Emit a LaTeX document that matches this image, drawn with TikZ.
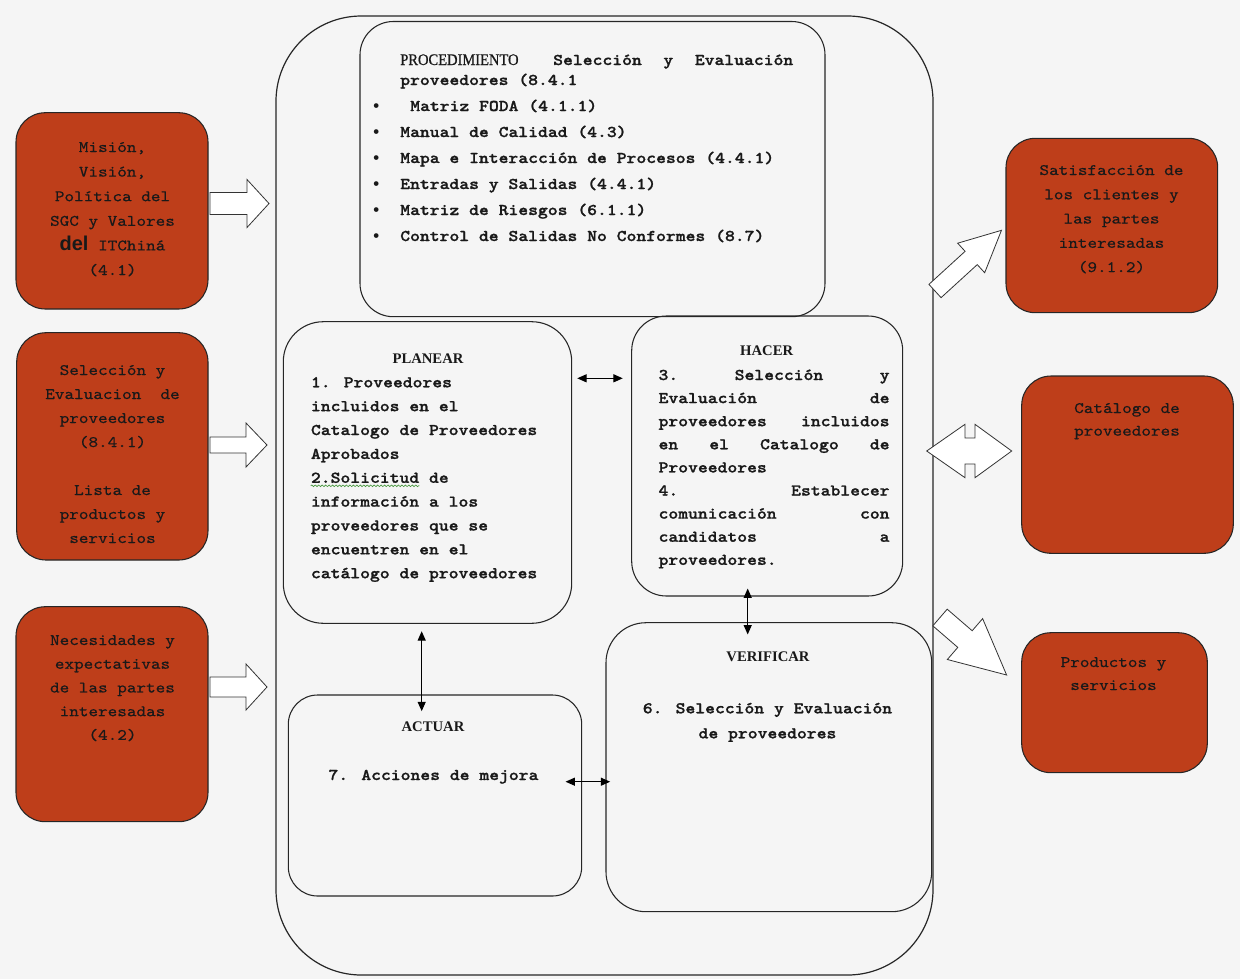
\documentclass[tikz,border=0pt]{standalone}
\usepackage{fontspec}
\newfontfamily\cour[FakeStretch=1.143, FakeBold=0.5, BoldFont=lmmonolt10-bold.otf, BoldFeatures={FakeBold=1.2}]{lmmono10-regular.otf}
\newfontfamily\libmono{Liberation Mono}
\newfontfamily\tms{Liberation Serif}
\newfontfamily\tmsc[FakeStretch=0.9, FakeBold=0.8]{Liberation Serif}
\newfontfamily\arl{Liberation Sans}
\usetikzlibrary{fit,calc,arrows.meta,decorations.pathmorphing}
\definecolor{redbox}{RGB}{190,62,26}
\definecolor{paper}{RGB}{245,245,245}
\definecolor{spell}{RGB}{70,150,60}
\newcommand\redfont[1]{\cour\fontsize{12}{#1}\selectfont}
\newcommand\inb[1]{\cour\bfseries\fontsize{12.3}{#1}\selectfont}
\newcommand\hdr{\tms\bfseries\fontsize{11}{13}\selectfont}
\newcommand\bul{\makebox[21.75pt][l]{\libmono\bfseries •}}
\newcommand\jl[1]{\makebox[\linewidth][l]{#1}}
\newcommand\blockarrow[6]{\draw[blk, shift={#1}, rotate=#2] (0,-#5) -- (#3-#4,-#5) -- (#3-#4,-#6) -- (#3,0) -- (#3-#4,#6) -- (#3-#4,#5) -- (0,#5) -- cycle;}
\tikzset{
  redb/.style={draw=black!85, fill=redbox, line width=0.8pt, rounded corners=22pt, inner sep=0pt},
  whb/.style={draw=black!85, line width=0.8pt, inner sep=0pt},
  txt/.style={inner sep=0pt, anchor=base, text=black!90},
  txtl/.style={inner sep=0pt, anchor=base west, text=black!90},
  blk/.style={draw=black!80, fill=white, line width=0.6pt, line join=miter},
  dbl/.style={{Triangle[length=7pt,width=6pt]}-{Triangle[length=7pt,width=6pt]}, line width=0.8pt},
}
\begin{document}
\begin{tikzpicture}[x=0.75pt,y=-0.75pt]
\fill[paper] (0,0) rectangle (1240,979);
\useasboundingbox (0,0) rectangle (1240,979);

% outer frame and inner boxes
\node[whb, line width=0.9pt, rounded corners=64pt, fit={(276,16)(933,975)}] (outer) {};
\node[whb, rounded corners=25pt, fit={(360,21.5)(825,316.7)}] (proc) {};
\node[whb, rounded corners=30pt, fit={(283.3,321.7)(571.7,623.3)}] (plan) {};
\node[whb, rounded corners=26pt, fit={(631.7,316)(902.7,596)}] (hac) {};
\node[whb, rounded corners=22pt, fit={(288.3,695)(581.7,896)}] (act) {};
\node[whb, rounded corners=30pt, fit={(606,622.7)(931.7,911.7)}] (ver) {};

% red boxes
\node[redb, fit={(16,112.7)(208,309)}] (l1) {};
\node[redb, fit={(16.7,332.7)(208,560)}] (l2) {};
\node[redb, fit={(16,606.7)(208,821.7)}] (l3) {};
\node[redb, fit={(1006,138.3)(1217.7,312.7)}] (r1) {};
\node[redb, fit={(1021.7,376)(1233.3,553.3)}] (r2) {};
\node[redb, fit={(1021.7,632.7)(1207.3,772.7)}] (r3) {};

% red box texts
\node[txt] (l1t) at (112.5,152) {\parbox[t]{180pt}{\centering\redfont{18.45pt}Misión,\\Visión,\\Política del\\SGC y Valores\\{\arl\bfseries\fontsize{15}{18}\selectfont del} ITChiná\\(4.1)}};
\node[txt] (l2t) at (112.5,375) {\parbox[t]{180pt}{\centering\redfont{18pt}Selección y\\Evaluacion\ \ de\\proveedores\\(8.4.1)\\\mbox{}\\Lista de\\productos y\\servicios}};
\node[txt] (l3t) at (112.5,645) {\parbox[t]{180pt}{\centering\redfont{17.8pt}Necesidades y\\expectativas\\de las partes\\interesadas\\(4.2)}};
\node[txt] (r1t) at (1111.5,175) {\parbox[t]{180pt}{\centering\redfont{18.2pt}Satisfacción de\\los clientes y\\las partes\\interesadas\\(9.1.2)}};
\node[txt] (r2t) at (1127,413) {\parbox[t]{180pt}{\centering\redfont{17pt}Catálogo de\\proveedores}};
\node[txt] (r3t) at (1113.5,667) {\parbox[t]{180pt}{\centering\redfont{17.25pt}Productos y\\servicios}};

% procedure box text
\node[txtl] (proch) at (400,65) {\parbox[t]{320pt}{\inb{15pt}\makebox[294.75pt][l]{{\tmsc\mdseries\fontsize{12.1}{15}\selectfont PROCEDIMIENTO}\hspace{26pt}Selección\hfill y\hfill Evaluación}\\proveedores (8.4.1}};
\node[txtl] (procl) at (371,111) {\parbox[t]{340pt}{\inb{19.5pt}\bul\hspace{7.5pt}Matriz FODA (4.1.1)\\\bul Manual de Calidad (4.3)\\\bul Mapa e Interacción de Procesos (4.4.1)\\\bul Entradas y Salidas (4.4.1)\\\bul Matriz de Riesgos (6.1.1)\\\bul Control de Salidas No Conformes (8.7)}};

% PLANEAR
\node[txt] (planh) at (428,363.3) {\hdr PLANEAR};
\node[txtl] (planb) at (310.7,387.3) {\parbox[t]{250pt}{\inb{17.9pt}1. Proveedores\\incluidos en el\\Catalogo de Proveedores\\Aprobados\\2.Solicitud de\\información a los\\proveedores que se\\encuentren en el\\catálogo de proveedores}};
\draw[spell, line width=0.5pt, decorate, decoration={snake, amplitude=0.6pt, segment length=2.6pt}] ($(planb.base west)+(0,98.5)$) -- ($(planb.base west)+(108.6,98.5)$);

% HACER
\node[txt] (hach) at (766.7,355) {\hdr HACER};
\node[txtl] (hacb) at (658.3,380) {\parbox[t]{173.25pt}{\inb{17.33pt}\jl{3.\hfill Selección\hfill y}\\\jl{Evaluación\hfill de}\\\jl{proveedores\hfill incluidos}\\\jl{en\hfill el\hfill Catalogo\hfill de}\\Proveedores\\\jl{4.\hfill Establecer}\\\jl{comunicación\hfill con}\\\jl{candidatos\hfill a}\\proveedores.}};

% ACTUAR
\node[txt] (acth) at (433,731) {\hdr ACTUAR};
\node[txt] (actb) at (433.5,780) {\inb{15pt}7. Acciones de mejora};

% VERIFICAR
\node[txt] (verh) at (768,661.7) {\hdr VERIFICAR};
\node[txt] (verb) at (767.5,713.3) {\parbox[t]{250pt}{\centering\inb{18.75pt}6. Selección y Evaluación\\de proveedores}};

% thin double arrows
\draw[dbl] ($(plan.east |- 0,378.3)+(5,0)$) -- ($(hac.west |- 0,378.3)+(-8.4,0)$);
\draw[dbl] ($(hac.south -| 747.7,0)+(0,-8)$) -- ($(ver.north -| 747.7,0)+(0,12.3)$);
\draw[dbl] ($(plan.south -| 421.7,0)+(0,7.4)$) -- ($(act.north -| 421.7,0)+(0,16.7)$);
\draw[dbl] ($(act.east |- 0,781.7)+(-16.7,0)$) -- ($(ver.west |- 0,781.7)+(4.7,0)$);

% block arrows
\blockarrow{(210,203.5)}{0}{59}{22}{11}{24}
\blockarrow{(210,445)}{0}{57}{21}{8}{22}
\blockarrow{(210,687)}{0}{57}{21}{10}{23}
\blockarrow{(935,291)}{42.4}{90}{41}{9}{20}
\blockarrow{(940,617.5)}{-40.8}{88}{55}{11}{27}
\draw[blk] (926.7,451) -- (965,424.3) -- (965,438) -- (975,438) -- (975,424.3) -- (1011.7,451) -- (975,477.7) -- (975,464) -- (965,464) -- (965,477.7) -- cycle;
\end{tikzpicture}
\end{document}
